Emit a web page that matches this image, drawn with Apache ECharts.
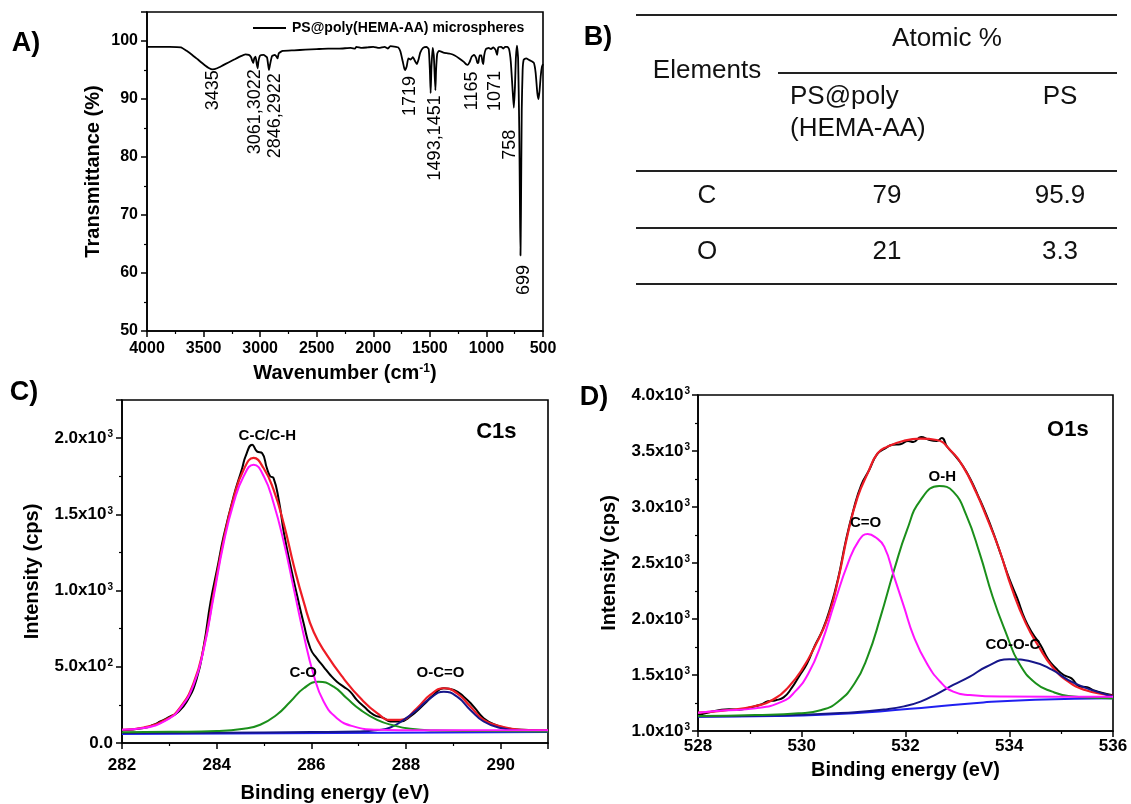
<!DOCTYPE html>
<html>
<head>
<meta charset="utf-8">
<title>PS@poly(HEMA-AA) microspheres - FTIR, composition and XPS</title>
<script src="https://cdn.jsdelivr.net/npm/echarts@6/dist/echarts.min.js"></script>
<style>
  html, body { margin: 0; padding: 0; background: #fff; }
  #chart { width: 1131px; height: 804px; }
</style>
</head>
<body>
<div id="chart"></div>
<script>
'use strict';

// ---- A) FTIR spectrum: [wavenumber (cm-1), transmittance (%)]
const ftirSpectrum = [
  [4000, 99.0], [3900, 99.0], [3800, 99.0], [3700, 98.9], [3650, 98.3], [3600, 97.6],
  [3550, 96.8], [3500, 96.0], [3450, 95.3], [3420, 95.1], [3380, 95.3], [3330, 95.8],
  [3280, 96.3], [3230, 96.8], [3180, 97.3], [3130, 97.7], [3100, 97.6], [3080, 97.2],
  [3070, 96.6], [3061, 96.2], [3052, 97.0], [3040, 97.3], [3030, 96.0], [3022, 95.3],
  [3015, 96.5], [3000, 97.5], [2970, 97.6], [2940, 97.2], [2930, 96.0], [2922, 95.0],
  [2912, 96.0], [2895, 97.4], [2870, 97.6], [2855, 97.3], [2846, 97.0], [2835, 97.9],
  [2800, 98.3], [2700, 98.4], [2600, 98.5], [2500, 98.6], [2400, 98.7], [2300, 98.7],
  [2200, 98.8], [2160, 98.7], [2150, 99.0], [2100, 98.8], [2050, 98.9], [2000, 99.0],
  [1950, 98.8], [1900, 99.0], [1870, 98.7], [1850, 99.1], [1800, 99.0], [1780, 98.9],
  [1760, 98.2], [1740, 96.5], [1725, 95.2], [1719, 95.0], [1705, 95.6], [1690, 97.0],
  [1670, 96.8], [1650, 97.2], [1630, 96.5], [1615, 96.0], [1600, 96.8], [1585, 98.0],
  [1560, 98.8], [1530, 99.0], [1510, 98.6], [1500, 95.0], [1493, 91.0], [1486, 95.5],
  [1475, 98.8], [1465, 97.5], [1451, 91.5], [1445, 95.0], [1435, 97.8], [1420, 98.3],
  [1380, 98.0], [1350, 97.9], [1320, 97.8], [1280, 97.5], [1240, 97.0], [1200, 96.4],
  [1180, 96.0], [1165, 95.9], [1150, 96.3], [1130, 97.3], [1110, 97.6], [1090, 97.0],
  [1080, 96.2], [1071, 96.3], [1060, 97.5], [1045, 97.5], [1035, 96.4], [1028, 96.0],
  [1020, 97.5], [1005, 98.6], [980, 98.8], [960, 98.6], [940, 98.9], [920, 98.5],
  [906, 97.6], [895, 98.9], [870, 99.0], [850, 98.7], [835, 99.0], [815, 99.0],
  [800, 98.6], [785, 96.5], [770, 92.0], [758, 88.5], [748, 92.0], [740, 97.0],
  [730, 99.2], [720, 97.0], [710, 85.0], [703, 70.0], [699, 63.0], [695, 70.0],
  [688, 88.0], [680, 95.0], [670, 96.8], [650, 97.0], [620, 96.7], [600, 96.5],
  [580, 96.2], [565, 94.5], [550, 91.0], [540, 90.0], [530, 91.5], [520, 94.0],
  [510, 95.5], [500, 96.0]
];
const ftirPeakText = ['3435', '3061,3022', '2846,2922', '1719', '1493,1451', '1165', '1071', '758', '699'];
const ftirPeakAnchor = [
  [3417, 91.5], [3045, 87.8], [2869, 87.1], [1675, 90.5], [1454, 83.3],
  [1130, 91.4], [924, 91.4], [792, 82.1], [668, 58.8]
];

// ---- B) surface composition (atomic %)
const tableElements = ['C', 'O'];
const atomicComposite = ['79', '21'];
const atomicPS = ['95.9', '3.3'];

// ---- C) C1s: [binding energy (eV), intensity (cps)]
const c1sRaw = [
  [282.0, 83], [282.46, 98], [282.67, 120], [282.81, 141], [283.02, 174], [283.16, 196],
  [283.37, 272], [283.58, 424], [283.73, 641], [283.87, 924], [284.01, 1141], [284.15, 1359],
  [284.36, 1620], [284.54, 1804], [284.61, 1880], [284.75, 1957], [284.85, 1913], [284.96, 1902],
  [285.06, 1804], [285.13, 1750], [285.2, 1739], [285.31, 1598], [285.42, 1380], [285.56, 1163],
  [285.7, 967], [285.84, 783], [285.98, 620], [286.12, 554], [286.26, 500], [286.4, 446],
  [286.54, 402], [286.68, 370], [286.82, 337], [286.96, 283], [287.11, 239], [287.32, 185],
  [287.53, 163], [287.67, 141], [287.88, 141], [288.09, 174], [288.37, 250], [288.58, 315],
  [288.8, 359], [289.01, 348], [289.22, 304], [289.43, 239], [289.64, 163], [289.92, 115],
  [290.2, 93], [290.6, 85], [291.0, 80]
];
const c1sEnvelope = [
  [282.0, 87], [282.46, 102], [282.95, 157], [283.23, 233], [283.51, 391], [283.73, 630],
  [283.94, 989], [284.15, 1337], [284.36, 1609], [284.57, 1793], [284.78, 1870], [284.99, 1804],
  [285.2, 1663], [285.42, 1435], [285.63, 1163], [285.84, 924], [286.05, 728], [286.33, 576],
  [286.68, 424], [287.04, 293], [287.39, 196], [287.67, 152], [287.88, 152], [288.23, 228],
  [288.51, 315], [288.8, 359], [289.08, 326], [289.36, 239], [289.64, 152], [290.0, 109],
  [290.42, 87], [291.0, 83]
];
const c1sCC = [
  [282.0, 87], [282.46, 98], [282.95, 152], [283.23, 228], [283.51, 380], [283.73, 620],
  [283.94, 967], [284.15, 1315], [284.36, 1576], [284.57, 1750], [284.78, 1826], [285.0, 1746],
  [285.2, 1576], [285.42, 1315], [285.63, 1011], [285.84, 707], [286.05, 446], [286.26, 272],
  [286.54, 163], [286.89, 109], [287.39, 87], [288.0, 84], [289.0, 83], [290.0, 83], [291.0, 83]
];
const c1sCO = [
  [282.0, 70], [283.0, 73], [284.0, 78], [284.57, 93], [284.92, 120], [285.27, 185],
  [285.56, 272], [285.84, 359], [286.15, 402], [286.47, 370], [286.75, 293], [287.04, 217],
  [287.39, 152], [287.74, 115], [288.09, 93], [288.6, 82], [289.5, 78], [291.0, 76]
];
const c1sOCO = [
  [282.0, 65], [284.0, 68], [286.0, 72], [287.0, 76], [287.4, 85], [287.67, 102],
  [287.95, 152], [288.23, 217], [288.51, 293], [288.8, 337], [289.08, 304], [289.36, 217],
  [289.64, 141], [290.0, 98], [290.42, 80], [291.0, 76]
];
const c1sBackground = [[282.0, 59], [286.5, 65], [291.0, 72]];
const c1sPeakText = ['C-C/C-H', 'C-O', 'O-C=O', 'C1s'];
const c1sPeakAnchor = [[285.07, 2012], [285.83, 463], [288.73, 463], [289.91, 2043]];

// ---- D) O1s: [binding energy (eV), intensity (cps)]
const o1sRaw = [
  [528.0, 1140], [528.2, 1165], [528.4, 1185], [528.6, 1195], [528.8, 1190], [529.0, 1210],
  [529.2, 1235], [529.35, 1265], [529.5, 1275], [529.65, 1300], [529.8, 1380], [529.95, 1490],
  [530.1, 1600], [530.25, 1760], [530.4, 1900], [530.55, 2100], [530.7, 2360], [530.85, 2700],
  [531.0, 2980], [531.15, 3200], [531.3, 3330], [531.45, 3470], [531.6, 3520], [531.75, 3555],
  [531.9, 3560], [532.05, 3590], [532.15, 3580], [532.3, 3625], [532.45, 3600], [532.6, 3590],
  [532.7, 3615], [532.8, 3540], [532.95, 3460], [533.1, 3370], [533.25, 3250], [533.4, 3100],
  [533.55, 2940], [533.7, 2760], [533.85, 2560], [534.0, 2360], [534.15, 2190], [534.3, 2000],
  [534.45, 1870], [534.6, 1770], [534.75, 1640], [534.9, 1560], [535.05, 1500], [535.2, 1470],
  [535.35, 1400], [535.5, 1390], [535.65, 1360], [535.8, 1340], [536.0, 1320]
];
const o1sEnvelope = [
  [528.0, 1164], [528.48, 1182], [529.11, 1223], [529.49, 1292], [529.75, 1396], [530.0, 1545],
  [530.25, 1753], [530.51, 2021], [530.7, 2348], [530.89, 2765], [531.08, 3092], [531.27, 3300],
  [531.46, 3479], [531.65, 3539], [531.97, 3592], [532.29, 3610], [532.6, 3598], [532.86, 3509],
  [533.11, 3360], [533.37, 3122], [533.56, 2914], [533.81, 2616], [534.06, 2259], [534.32, 1961],
  [534.57, 1753], [534.83, 1574], [535.14, 1440], [535.46, 1366], [535.9, 1321], [536.0, 1315]
];
const o1sCdO = [
  [528.0, 1164], [528.48, 1182], [529.11, 1202], [529.62, 1262], [529.87, 1351], [530.13, 1515],
  [530.38, 1783], [530.63, 2140], [530.89, 2497], [531.1, 2700], [531.27, 2759], [531.42, 2730],
  [531.59, 2646], [531.78, 2378], [531.97, 2110], [532.16, 1842], [532.41, 1604], [532.67, 1440],
  [532.92, 1351], [533.24, 1321], [533.87, 1307], [535.9, 1305], [536.0, 1305]
];
const o1sOH = [
  [528.0, 1134], [529.11, 1143], [529.94, 1158], [530.38, 1188], [530.7, 1262], [531.02, 1426],
  [531.27, 1664], [531.52, 2021], [531.78, 2437], [532.03, 2795], [532.29, 3062], [532.65, 3187],
  [532.92, 3137], [533.17, 2929], [533.43, 2586], [533.68, 2199], [533.94, 1872], [534.19, 1604],
  [534.51, 1426], [534.83, 1351], [535.14, 1313], [535.9, 1292], [536.0, 1291]
];
const o1sCOOC = [
  [528.0, 1130], [529.75, 1140], [531.02, 1168], [531.65, 1195], [531.97, 1220], [532.29, 1262],
  [532.6, 1330], [532.92, 1411], [533.24, 1485], [533.56, 1574], [534.0, 1640], [534.44, 1619],
  [534.83, 1545], [535.14, 1455], [535.46, 1387], [535.9, 1321], [536.0, 1310]
];
const o1sBackground = [
  [528.0, 1128], [529.5, 1134], [530.5, 1148], [531.5, 1175], [532.5, 1215], [533.5, 1255],
  [534.5, 1280], [536.0, 1293]
];
const o1sPeakText = ['C=O', 'O-H', 'CO-O-C', 'O1s'];
const o1sPeakAnchor = [[531.23, 2860], [532.71, 3270], [534.07, 1768], [535.13, 3688]];

// ---- styling
const FONT = '"Liberation Sans", Arial, Helvetica, sans-serif';
const INK = '#000';
const RED = '#ee1c25';
const MAGENTA = '#ff14ff';
const GREEN = '#1b8f1b';
const NAVY = '#16168a';
const BLUE = '#2020f0';

const chart = echarts.init(document.getElementById('chart'), null, { renderer: 'canvas' });

function sciLabel(v) {
  if (v === 0) return '{m|0.0}';
  const e = Math.floor(Math.log10(v) + 1e-9);
  const m = (v / Math.pow(10, e)).toFixed(1);
  return '{m|' + m + 'x10}{e|' + e + '}';
}

const sciRich = {
  m: { fontFamily: FONT, fontWeight: 'bold', fontSize: 17, color: INK },
  e: { fontFamily: FONT, fontWeight: 'bold', fontSize: 10, color: INK, verticalAlign: 'top', padding: [0, 0, 0, 1] }
};

function xAxisOf(grid, min, max, interval, name, gap, margin, extra) {
  return Object.assign({
    gridIndex: grid, type: 'value', min, max, interval,
    name, nameLocation: 'middle', nameGap: gap,
    nameTextStyle: { fontFamily: FONT, fontWeight: 'bold', fontSize: 20, color: INK },
    axisLine: { show: true, onZero: false, lineStyle: { color: INK, width: 1.6 } },
    axisTick: { show: true, inside: false, length: 6, lineStyle: { color: INK, width: 1.5 } },
    minorTick: { show: true, splitNumber: 2, length: 3, lineStyle: { color: INK, width: 1.2 } },
    splitLine: { show: false },
    axisLabel: { margin, fontFamily: FONT, fontWeight: 'bold', fontSize: 17, color: INK, formatter: (v) => String(v) }
  }, extra || {});
}

function yAxisOf(grid, min, max, interval, name, gap, margin, extra) {
  return Object.assign({
    gridIndex: grid, type: 'value', min, max, interval,
    name, nameLocation: 'middle', nameGap: gap, nameRotate: 90,
    nameTextStyle: { fontFamily: FONT, fontWeight: 'bold', fontSize: 20, color: INK },
    axisLine: { show: true, onZero: false, lineStyle: { color: INK, width: 1.6 } },
    axisTick: { show: true, inside: false, length: 6, lineStyle: { color: INK, width: 1.5 } },
    minorTick: { show: true, splitNumber: 2, length: 3, lineStyle: { color: INK, width: 1.2 } },
    splitLine: { show: false },
    axisLabel: { margin, fontFamily: FONT, fontWeight: 'bold', fontSize: 17, color: INK }
  }, extra || {});
}

function curve(name, xi, data, color, width, z) {
  return {
    name, type: 'line', xAxisIndex: xi, yAxisIndex: xi, data,
    symbol: 'none', showSymbol: false, smooth: 0.5,
    lineStyle: { color, width }, itemStyle: { color },
    z: z || 2, silent: true
  };
}

// annotation texts placed through the axes of panel xi
// fonts: one per anchor (or a single font for all)
function textMarks(xi, anchors, texts, fonts, rotate) {
  return {
    type: 'custom', xAxisIndex: xi, yAxisIndex: xi, silent: true, z: 10,
    data: anchors.map((a) => a.slice()),
    renderItem: (params, api) => {
      const pt = api.coord([api.value(0), api.value(1)]);
      const i = params.dataIndex;
      return {
        type: 'text', x: pt[0], y: pt[1], rotation: rotate ? Math.PI / 2 : 0,
        style: {
          text: texts[i], fill: INK, align: 'center', verticalAlign: 'middle',
          font: Array.isArray(fonts) ? fonts[i] : fonts
        }
      };
    }
  };
}

// table (panel B) drawn with graphic primitives
const tbl = { left: 636, right: 1117, lines: [15, 171, 228, 284], subLine: 73, subLeft: 778,
  colElem: 707, colComp: 887, colPS: 1060, rowY: [196, 252] };
const tableFont = '26px ' + FONT;
function tText(text, x, y, align) {
  return { type: 'text', x, y, silent: true,
    style: { text, fill: '#111', font: tableFont, align: align || 'center', verticalAlign: 'middle' } };
}
const graphics = [];
tbl.lines.forEach((y) => graphics.push({ type: 'line', silent: true,
  shape: { x1: tbl.left, y1: y, x2: tbl.right, y2: y }, style: { stroke: '#222', lineWidth: 2 } }));
graphics.push({ type: 'line', silent: true,
  shape: { x1: tbl.subLeft, y1: tbl.subLine, x2: tbl.right, y2: tbl.subLine }, style: { stroke: '#222', lineWidth: 2 } });
graphics.push(tText('Atomic %', 947, 39));
graphics.push(tText('Elements', tbl.colElem, 71));
graphics.push(tText('PS@poly', 790, 97, 'left'));
graphics.push(tText('(HEMA-AA)', 790, 129, 'left'));
graphics.push(tText('PS', tbl.colPS, 97));
tableElements.forEach((el, i) => {
  graphics.push(tText(el, tbl.colElem, tbl.rowY[i]));
  graphics.push(tText(atomicComposite[i], tbl.colComp, tbl.rowY[i]));
  graphics.push(tText(atomicPS[i], tbl.colPS, tbl.rowY[i]));
});
// panel letters
[['A)', 26, 44], ['B)', 598, 38], ['C)', 24, 393], ['D)', 594, 398]].forEach(([t, x, y]) => {
  graphics.push({ type: 'text', x, y, silent: true,
    style: { text: t, fill: INK, font: 'bold 27px ' + FONT, align: 'center', verticalAlign: 'middle' } });
});

const peakFont = 'bold 15px ' + FONT;
const coreFont = 'bold 22px ' + FONT;

const option = {
  animation: false,
  backgroundColor: '#fff',
  grid: [
    { left: 147, top: 12, width: 396, height: 319, show: true, borderColor: INK, borderWidth: 1.6, containLabel: false },
    { left: 122, top: 400, width: 426, height: 345, show: true, borderColor: INK, borderWidth: 1.6, containLabel: false },
    { left: 698, top: 395, width: 415, height: 336, show: true, borderColor: INK, borderWidth: 1.6, containLabel: false }
  ],
  legend: {
    show: true, left: 253, top: 21, padding: 0, itemWidth: 33, itemHeight: 2, itemGap: 5,
    icon: 'rect', selectedMode: false,
    data: ['PS@poly(HEMA-AA) microspheres'],
    textStyle: { fontFamily: FONT, fontWeight: 'bold', fontSize: 14, color: INK, padding: [0, 0, 0, 1] }
  },
  xAxis: [
    xAxisOf(0, 500, 4000, 500, '{t|Wavenumber (cm}{s|-1}{t|)}', 32, 10, {
      inverse: true,
      axisLabel: { margin: 10, fontFamily: FONT, fontWeight: 'bold', fontSize: 16, color: INK, formatter: (v) => String(v) },
      nameTextStyle: {
        rich: {
          t: { fontFamily: FONT, fontWeight: 'bold', fontSize: 20, color: INK },
          s: { fontFamily: FONT, fontWeight: 'bold', fontSize: 12, color: INK, verticalAlign: 'top' }
        }
      }
    }),
    xAxisOf(1, 282, 291, 2, 'Binding energy (eV)', 40, 14, {
      axisLabel: { margin: 14, showMaxLabel: false, fontFamily: FONT, fontWeight: 'bold', fontSize: 17, color: INK, formatter: (v) => String(v) }
    }),
    xAxisOf(2, 528, 536, 2, 'Binding energy (eV)', 29, 7)
  ],
  yAxis: [
    yAxisOf(0, 50, 105, 10, 'Transmittance (%)', 44, 9, {
      axisLabel: { margin: 9, showMaxLabel: false, fontFamily: FONT, fontWeight: 'bold', fontSize: 16, color: INK }
    }),
    yAxisOf(1, 0, 2250, 500, 'Intensity (cps)', 80, 9, {
      axisLabel: { margin: 9, showMaxLabel: false, formatter: sciLabel, rich: sciRich }
    }),
    yAxisOf(2, 1000, 4000, 500, 'Intensity (cps)', 79, 8, {
      axisLabel: { margin: 8, formatter: sciLabel, rich: sciRich }
    })
  ],
  graphic: graphics,
  series: [
    Object.assign(curve('PS@poly(HEMA-AA) microspheres', 0, ftirSpectrum, INK, 1.8), { smooth: 0.15 }),
    textMarks(0, ftirPeakAnchor, ftirPeakText, '18px ' + FONT, true),

    curve('C1s raw', 1, c1sRaw, INK, 2, 2),
    curve('C1s envelope', 1, c1sEnvelope, RED, 2.2, 3),
    curve('C1s background', 1, c1sBackground, BLUE, 2, 3),
    curve('C1s O-C=O', 1, c1sOCO, NAVY, 2, 4),
    curve('C1s C-O', 1, c1sCO, GREEN, 2, 4),
    curve('C1s C-C/C-H', 1, c1sCC, MAGENTA, 2, 5),
    textMarks(1, c1sPeakAnchor, c1sPeakText, [peakFont, peakFont, peakFont, coreFont]),

    curve('O1s raw', 2, o1sRaw, INK, 2, 2),
    curve('O1s envelope', 2, o1sEnvelope, RED, 2.2, 3),
    curve('O1s background', 2, o1sBackground, BLUE, 2, 3),
    curve('O1s CO-O-C', 2, o1sCOOC, NAVY, 2, 4),
    curve('O1s O-H', 2, o1sOH, GREEN, 2, 4),
    curve('O1s C=O', 2, o1sCdO, MAGENTA, 2, 5),
    textMarks(2, o1sPeakAnchor, o1sPeakText, [peakFont, peakFont, peakFont, coreFont])
  ]
};

chart.setOption(option);
</script>
</body>
</html>
